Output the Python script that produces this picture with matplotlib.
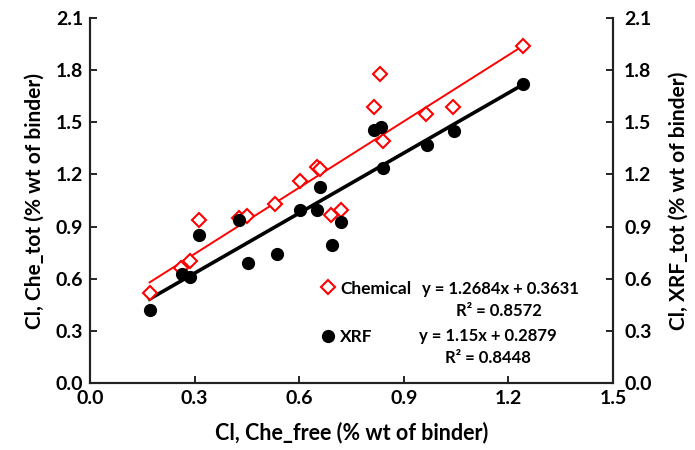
import matplotlib.pyplot as plt
import numpy as np

# chemical free Cl vs total Cl (chemical and XRF)
chem_x = [0.171, 0.262, 0.287, 0.314, 0.426, 0.449, 0.532, 0.603, 0.650, 0.660,
          0.692, 0.721, 0.814, 0.833, 0.839, 0.965, 1.042, 1.241]
chem_y = [0.52, 0.66, 0.70, 0.94, 0.95, 0.96, 1.03, 1.163, 1.245, 1.23,
          0.967, 0.996, 1.586, 1.778, 1.394, 1.548, 1.588, 1.938]
xrf_x = [0.171, 0.264, 0.288, 0.314, 0.426, 0.452, 0.535, 0.603, 0.652, 0.661,
         0.693, 0.721, 0.814, 0.834, 0.841, 0.966, 1.044, 1.242]
xrf_y = [0.421, 0.626, 0.609, 0.852, 0.938, 0.69, 0.741, 0.996, 0.996, 1.13,
         0.795, 0.929, 1.456, 1.475, 1.236, 1.37, 1.448, 1.72]

chem_fit = (1.2684, 0.3631, 0.8572)
xrf_fit = (1.15, 0.2879, 0.8448)

ticks = [0.0, 0.3, 0.6, 0.9, 1.2, 1.5, 1.8, 2.1]
xticks = [0.0, 0.3, 0.6, 0.9, 1.2, 1.5]

plt.rcParams['font.family'] = ['Lato', 'DejaVu Sans']
plt.rcParams['font.weight'] = 'bold'

fig = plt.figure(figsize=(6.95, 4.5), dpi=100)
ax = fig.add_axes([0.1295, 0.148, 0.7525, 0.8127])

xl = np.array([min(chem_x), max(chem_x)])
ax.plot(xl, chem_fit[0] * xl + chem_fit[1], color='#ff0000', lw=1.4, zorder=2)
xl = np.array([min(xrf_x), max(xrf_x)])
ax.plot(xl, xrf_fit[0] * xl + xrf_fit[1], color='black', lw=2.6, zorder=2)

ax.plot(chem_x, chem_y, 'D', mfc='white', mec='#ff0000', mew=1.5, ms=7,
        label='Chemical', zorder=3)
ax.plot(xrf_x, xrf_y, 'o', color='black', ms=8.5, label='XRF', zorder=3)

ax.set_xlim(0, 1.5)
ax.set_ylim(0, 2.1)
ax.set_xticks(xticks)
ax.set_yticks(ticks)
ax.set_xticklabels(['%.1f' % t for t in xticks], fontsize=14, fontweight='bold')
ax.set_yticklabels(['%.1f' % t for t in ticks], fontsize=14, fontweight='bold')
ax.tick_params(direction='in', length=5, width=1.2, pad=5)

ax2 = ax.twinx()
ax2.set_ylim(0, 2.1)
ax2.set_yticks(ticks)
ax2.set_yticklabels(['%.1f' % t for t in ticks], fontsize=14, fontweight='bold')
ax2.tick_params(direction='in', length=5, width=1.2, pad=8)

for a in (ax, ax2):
    a.spines['top'].set_visible(False)
    for s in ('left', 'right', 'bottom'):
        a.spines[s].set_linewidth(1.5)
        a.spines[s].set_color('#222222')

ax.set_xlabel('Cl, Che_free (% wt of binder)', fontsize=15.5, fontweight='bold', labelpad=10)
ax.set_ylabel('Cl, Che_tot (% wt of binder)', fontsize=15, fontweight='bold', labelpad=8)
ax2.set_ylabel('Cl, XRF_tot (% wt of binder)', fontsize=15, fontweight='bold', labelpad=12,
               rotation=90)

ax.legend(loc='upper left', bbox_to_anchor=(0.422, 0.305), frameon=False,
          handletextpad=0.2, labelspacing=1.85, handlelength=1.0, borderpad=0,
          prop={'weight': 'bold', 'size': 12.5})

ax.text(1.177, 0.542, 'y = %.4fx + %.4f' % (chem_fit[0], chem_fit[1]), ha='center', va='center',
        fontsize=12, fontweight='bold')
ax.text(1.174, 0.415, 'R² = %.4f' % chem_fit[2], ha='center', va='center',
        fontsize=12, fontweight='bold')
ax.text(1.142, 0.272, 'y = %.2fx + %.4f' % (xrf_fit[0], xrf_fit[1]), ha='center', va='center',
        fontsize=12, fontweight='bold')
ax.text(1.142, 0.146, 'R² = %.4f' % xrf_fit[2], ha='center', va='center',
        fontsize=12, fontweight='bold')

fig.savefig('out.png', dpi=100)
